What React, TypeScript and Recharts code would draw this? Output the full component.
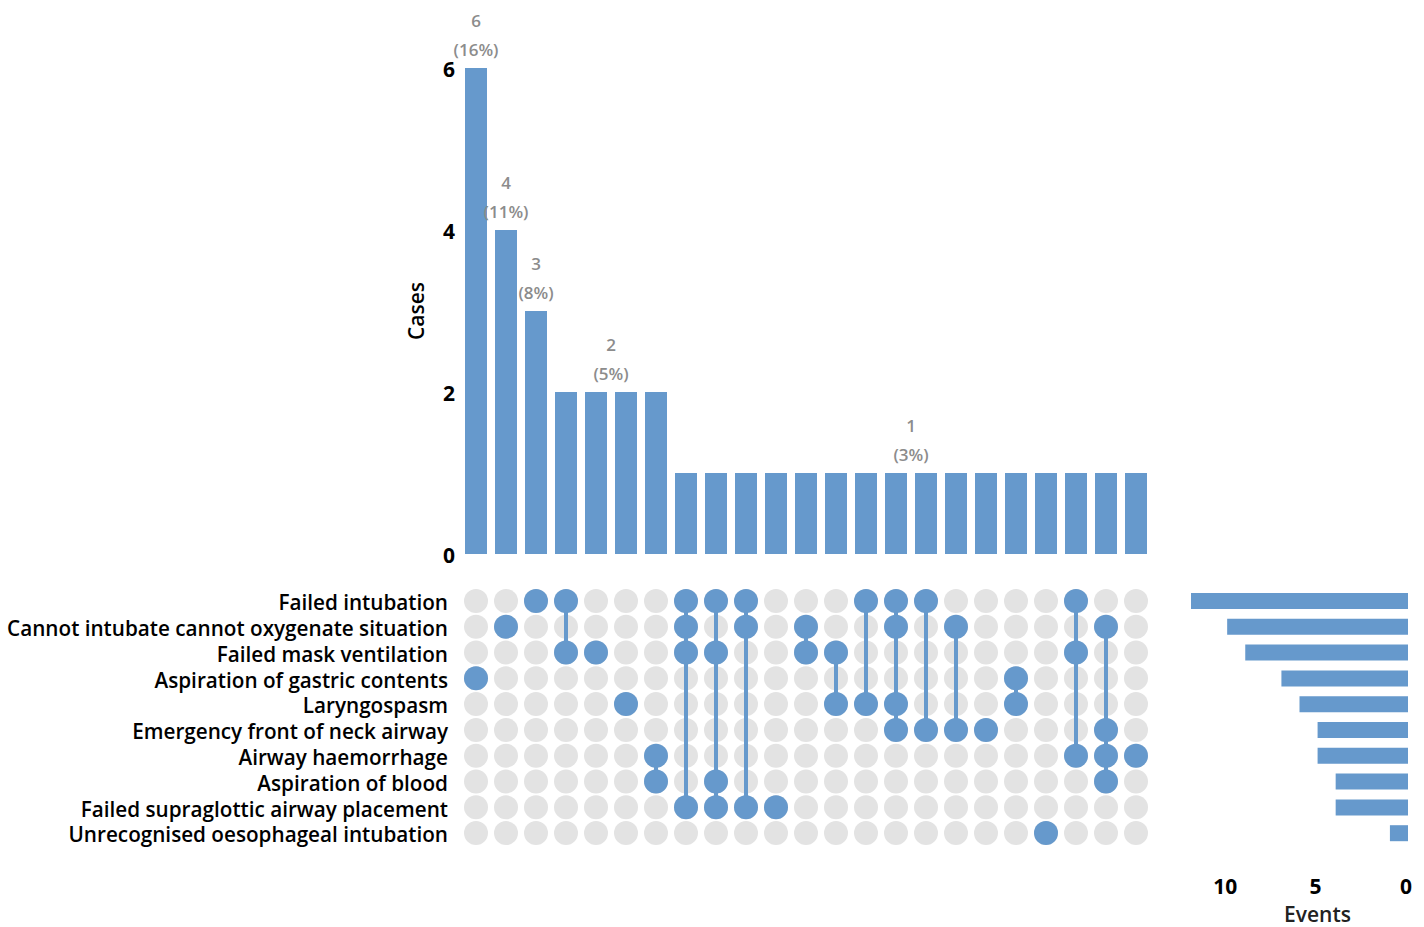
import React from "react";
import { ComposedChart, ScatterChart, BarChart, Bar, Scatter, XAxis, YAxis } from "recharts";

const FONT = "'Open Sans', Lato, sans-serif";
const BLUE = "#6699cc";
const GREY = "#e3e3e3";

const setNames = [
  "Failed intubation",
  "Cannot intubate cannot oxygenate situation",
  "Failed mask ventilation",
  "Aspiration of gastric contents",
  "Laryngospasm",
  "Emergency front of neck airway",
  "Airway haemorrhage",
  "Aspiration of blood",
  "Failed supraglottic airway placement",
  "Unrecognised oesophageal intubation",
];
const setSizes = [12, 10, 9, 7, 6, 5, 5, 4, 4, 1];

const intersectionCounts = [6, 4, 3, 2, 2, 2, 2, 1, 1, 1, 1, 1, 1, 1, 1, 1, 1, 1, 1, 1, 1, 1, 1];
// set indexes (rows) that belong to each intersection column
const intersectionMembers = [
  [3], [1], [0], [0, 2], [2], [4], [6, 7], [0, 1, 2, 8], [0, 2, 7, 8], [0, 1, 8], [8],
  [1, 2], [2, 4], [0, 4], [0, 1, 4, 5], [0, 5], [1, 5], [5], [3, 4], [9], [0, 2, 6], [1, 5, 6, 7], [6],
];

const caseTicks = [0, 2, 4, 6];
const eventTicks = [0, 5, 10];
const rowTicks = setNames.map((_, i) => i);

const nCols = intersectionCounts.length;
const total = intersectionCounts.reduce((a, b) => a + b, 0);
const barData = intersectionCounts.map((count, col) => ({ col, count }));

// one label per run of equal bar heights, centred on the run
const groupLabels: { col: number; count: number; pct: number }[] = [];
let start = 0;
for (let i = 1; i <= nCols; i++) {
  if (i === nCols || intersectionCounts[i] !== intersectionCounts[start]) {
    const count = intersectionCounts[start];
    groupLabels.push({ col: (start + i - 1) / 2, count, pct: Math.round((count / total) * 100) });
    start = i;
  }
}

const gridData = intersectionMembers.flatMap((_, col) => setNames.map((__, row) => ({ col, row })));
const columnSeries = intersectionMembers.map((rows, col) => rows.map((row) => ({ col, row })));
const setData = setNames.map((name, i) => ({ name, size: setSizes[i] }));

const GroupLabel = (props: any) => (
  <g>
    <text x={props.cx} y={props.cy - 48} textAnchor="middle" dominantBaseline="central"
      fill="#8c8c8c" fontSize={17} fontWeight={600} fontFamily={FONT}>{props.payload.count}</text>
    <text x={props.cx} y={props.cy - 19} textAnchor="middle" dominantBaseline="central"
      fill="#8c8c8c" fontSize={17} fontWeight={600} fontFamily={FONT}>({props.payload.pct}%)</text>
  </g>
);

const dot = (fill: string) => (props: any) => <circle cx={props.cx} cy={props.cy} r={12} fill={fill} />;

const layer: React.CSSProperties = { position: "absolute", left: 0, top: 0 };

const App: React.FC = () => {
  return (
    <div style={{ position: "absolute", left: 0, top: 0, width: 1424, height: 927, background: "#fff" }}>
      <div style={layer}>
        <ComposedChart width={1424} height={600} data={barData}
          margin={{ top: 68, right: 273, bottom: 46, left: 401 }}>
          <XAxis dataKey="col" type="number" domain={[-0.5, nCols - 0.5]} hide />
          <XAxis xAxisId="labels" dataKey="col" type="number" domain={[-0.5, nCols - 0.5]} hide />
          <YAxis type="number" domain={[0, 6]} ticks={caseTicks} interval={0} width={60}
            axisLine={false} tickLine={false} tickSize={0} tickMargin={6}
            tick={{ fill: "#000", fontSize: 21, fontWeight: 700, fontFamily: FONT, dy: 2 }}
            label={{ value: "Cases", angle: -90, position: "center", dx: -14, fill: "#000",
              fontSize: 21, fontWeight: 600, fontFamily: FONT }} />
          <Bar dataKey="count" fill={BLUE} barSize={22} isAnimationActive={false} />
          <Scatter xAxisId="labels" data={groupLabels} dataKey="count" shape={GroupLabel} isAnimationActive={false} />
        </ComposedChart>
      </div>
      <div style={layer}>
        <ScatterChart width={1424} height={870} margin={{ top: 588, right: 273, bottom: 24, left: 0 }}>
          <XAxis dataKey="col" type="number" domain={[-0.5, nCols - 0.5]} hide />
          <YAxis dataKey="row" type="number" domain={[-0.5, setNames.length - 0.5]} reversed
            ticks={rowTicks} interval={0} tickFormatter={(v: number) => setNames[v]} width={461}
            axisLine={false} tickLine={false} tickSize={0} tickMargin={13}
            tick={{ fill: "#000", fontSize: 20.7, fontWeight: 600, fontFamily: FONT, dy: 2 }} />
          <Scatter data={gridData} fill={GREY} shape={dot(GREY)} isAnimationActive={false} />
          {columnSeries.map((pts, i) => (
            <Scatter key={i} data={pts} fill={BLUE} shape={dot(BLUE)}
              line={{ stroke: BLUE, strokeWidth: 4 }} isAnimationActive={false} />
          ))}
        </ScatterChart>
      </div>
      <div style={layer}>
        <BarChart layout="vertical" width={1424} height={927} data={setData}
          margin={{ top: 588, right: 16, bottom: 1, left: 1191 }}>
          <XAxis type="number" domain={[0, 12]} reversed ticks={eventTicks} interval={0} height={80}
            axisLine={false} tickLine={false} tickSize={0} tickMargin={33}
            tick={{ fill: "#000", fontSize: 21, fontWeight: 700, fontFamily: FONT, dx: -2 }}
            label={{ value: "Events", position: "insideBottom", offset: 4, dx: 18, fill: "#222",
              fontSize: 21, fontWeight: 600, fontFamily: FONT }} />
          <YAxis type="category" dataKey="name" hide />
          <Bar dataKey="size" fill={BLUE} barSize={16} isAnimationActive={false} />
        </BarChart>
      </div>
    </div>
  );
};

export default App;
